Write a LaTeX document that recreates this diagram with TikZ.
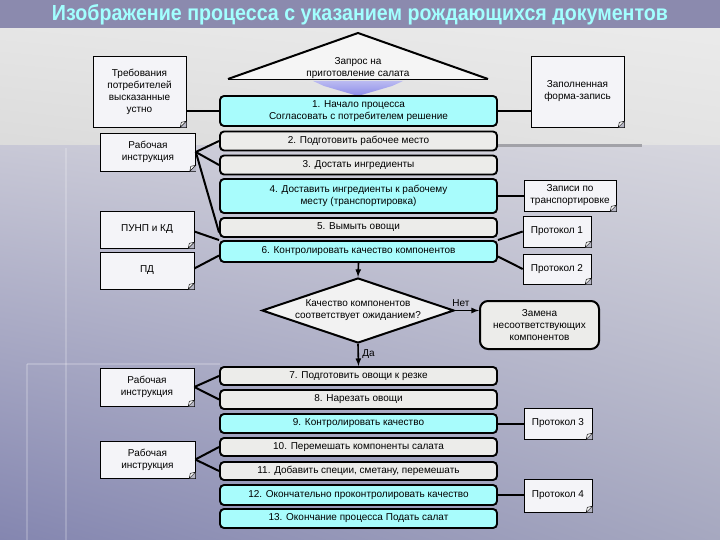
\documentclass[tikz,border=0pt]{standalone}
\usepackage{fontspec}
\setmainfont{Liberation Sans}
\usetikzlibrary{shapes.geometric,shadings}
\definecolor{banner}{HTML}{8B8AAE}
\definecolor{titletext}{HTML}{A2FFFF}
\definecolor{cyanbox}{HTML}{A8FCFC}
\definecolor{graybox}{HTML}{ECECEA}
\definecolor{docfill}{HTML}{F4F4F8}
\definecolor{foldbg}{HTML}{B8B8C6}
\definecolor{arrowblue}{HTML}{8C8CE8}
\definecolor{decoline}{HTML}{A2A2A8}
\definecolor{bgA}{RGB}{200,200,214}
\definecolor{bgB}{RGB}{214,214,222}
\definecolor{bgC}{RGB}{132,134,176}
\definecolor{bgD}{RGB}{166,168,192}
\newcommand\boxfont{\fontsize{10}{12}\selectfont}
% folded corner of a document
\newcommand\fold[1]{%
  \fill[foldbg]([xshift=-6pt]#1.south east)--(#1.south east)--([yshift=6pt]#1.south east)--cycle;
  \draw[line width=0.5pt,fill=white]([xshift=-6pt]#1.south east)--([yshift=6pt]#1.south east)--([xshift=-5pt,yshift=5pt]#1.south east)--cycle;}
\begin{document}
\begin{tikzpicture}[x=1pt,y=-1pt,
  proc/.style={draw,line width=1.9pt,rounded corners=4pt,minimum width=277pt,inner sep=1pt,align=center,font=\boxfont},
  procC/.style={proc,fill=cyanbox},
  procG/.style={proc,fill=graybox},
  docu/.style={draw,line width=0.6pt,fill=docfill,inner sep=1pt,align=center,font=\boxfont},
  link/.style={line width=2pt},
  flow/.style={line width=1.6pt,-latex}]
\useasboundingbox (0,0) rectangle (720,540);
%background
\shade[upper left=black!10,upper right=black!8,lower left=black!14,lower right=black!11](0,28) rectangle (720,146);
\shade[upper left=bgA,upper right=bgB,lower left=bgC,lower right=bgD](0,146) rectangle (720,540);
\draw[decoline,line width=3pt](360,146)--(642,146);
\draw[white,opacity=0.2,line width=2pt](66,148)--(66,540);
\draw[white,opacity=0.2,line width=2pt](27,364)--(220,364);
\draw[white,opacity=0.2,line width=2pt](27,364)--(27,540);
\fill[banner](0,0) rectangle (720,28);
\node[text=titletext,inner sep=0pt] (title) at (360,14.5) {\resizebox{616pt}{16pt}{\bfseries Изображение процесса с указанием рождающихся документов}};
%request
\fill[black!4](228,79)--(358,33)--(488,79)--cycle;
\draw[line width=2pt](228,79)--(358,33)--(488,79);
\draw[line width=0.8pt](228,79)--(488,79);
\node[font=\boxfont,align=center] (zapros) at (358,68) {Запрос на\\приготовление салата};
\shade[top color=arrowblue!60,bottom color=arrowblue](313,81)--(403,81)--(392,86)--(358,96)--(324,86)--cycle;
%process
\node[procC,minimum height=30pt] (p1) at (358.5,111) {1. Начало процесса\\Согласовать с потребителем решение};
\node[procG,minimum height=19pt] (p2) at (358.5,141) {2. Подготовить рабочее место};
\node[procG,minimum height=19pt] (p3) at (358.5,165) {3. Достать ингредиенты};
\node[procC,minimum height=34pt] (p4) at (358.5,196) {4. Доставить ингредиенты к рабочему\\месту (транспортировка)};
\node[procG,minimum height=19pt] (p5) at (358.5,227.5) {5. Вымыть овощи};
\node[procC,minimum height=21pt] (p6) at (358.5,251.5) {6. Контролировать качество компонентов};
\node[draw,line width=2pt,fill=black!5,diamond,aspect=2.95,minimum width=192pt,minimum height=65pt,inner sep=0pt,align=center,font=\boxfont] (dq) at (358,310.5) {Качество компонентов\\соответствует ожиданием?};
\node[draw,line width=2pt,fill=graybox,rounded corners=8pt,minimum width=119pt,minimum height=48pt,align=center,font=\boxfont] (zam) at (539.5,325) {Замена\\несоответствующих\\компонентов};
\node[procG,minimum height=18pt] (p7) at (358.5,376) {7. Подготовить овощи к резке};
\node[procG,minimum height=19pt] (p8) at (358.5,399.5) {8. Нарезать овощи};
\node[procC,minimum height=19pt] (p9) at (358.5,423.5) {9. Контролировать качество};
\node[procG,minimum height=18pt] (p10) at (358.5,447) {10. Перемешать компоненты салата};
\node[procG,minimum height=18pt] (p11) at (358.5,471) {11. Добавить специи, сметану, перемешать};
\node[procC,minimum height=20pt] (p12) at (358.5,495) {12. Окончательно проконтролировать качество};
\node[procC,minimum height=19pt] (p13) at (358.5,518.5) {13. Окончание процесса Подать салат};
%documents
\node[docu,minimum width=93pt,minimum height=71pt] (d1) at (139.5,91.5) {Требования\\потребителей\\высказанные\\устно};
\node[docu,minimum width=95pt,minimum height=38pt] (d2) at (148,152) {Рабочая\\инструкция};
\node[docu,minimum width=94pt,minimum height=37pt] (d3) at (147,229.5) {ПУНП и КД};
\node[docu,minimum width=94pt,minimum height=37pt] (d4) at (147,270.5) {ПД};
\node[docu,minimum width=94pt,minimum height=38pt] (d5) at (147,387) {Рабочая\\инструкция};
\node[docu,minimum width=95pt,minimum height=37pt] (d6) at (147.5,459.5) {Рабочая\\инструкция};
\node[docu,minimum width=93pt,minimum height=71pt] (r1) at (577.5,91.5) {Заполненная\\форма-запись};
\node[docu,minimum width=92pt,minimum height=31pt] (r2) at (570,195.5) {Записи по\\транспортировке};
\node[docu,minimum width=68pt,minimum height=31pt] (r3) at (557,231.5) {Протокол 1};
\node[docu,minimum width=68pt,minimum height=30pt] (r4) at (557,269) {Протокол 2};
\node[docu,minimum width=68pt,minimum height=31pt] (r5) at (558,423.5) {Протокол 3};
\node[docu,minimum width=68pt,minimum height=33pt] (r6) at (558,495.5) {Протокол 4};
\foreach \d in {d1,d2,d3,d4,d5,d6,r1,r2,r3,r4,r5,r6}{\fold{\d}}
%links
\draw[link](p1.west-|d1.east)--(p1.west);
\draw[link](p1.east)--(p1.east-|r1.west);
\draw[link](d2.east)--(p2.west);
\draw[link](d2.east)--(p3.west);
\draw[link](d2.east)--([yshift=-5pt]p5.west);
\draw[link]([yshift=-2pt]d3.east)--(p6.north west);
\draw[link]([yshift=2pt]d4.east)--([yshift=-4pt]p6.west);
\draw[link](p4.east)--(p4.east-|r2.west);
\draw[link](p6.north east)--(r3.west);
\draw[link]([yshift=-5pt]p6.east)--(r4.west);
\draw[link](d5.east)--(p7.west);
\draw[link](d5.east)--(p8.west);
\draw[link](p9.east)--(p9.east-|r5.west);
\draw[link](d6.east)--(p10.west);
\draw[link](d6.east)--(p11.west);
\draw[link](p12.east)--(p12.east-|r6.west);
%flow
\draw[flow](p6.south)--(dq.north);
\draw[flow](dq.east)--(dq.east-|zam.west)node[above,pos=0.25,font=\boxfont]{Нет};
\draw[flow](dq.south)--(p7.north)node[right,pos=0.45,font=\boxfont]{Да};
\end{tikzpicture}
\end{document}
